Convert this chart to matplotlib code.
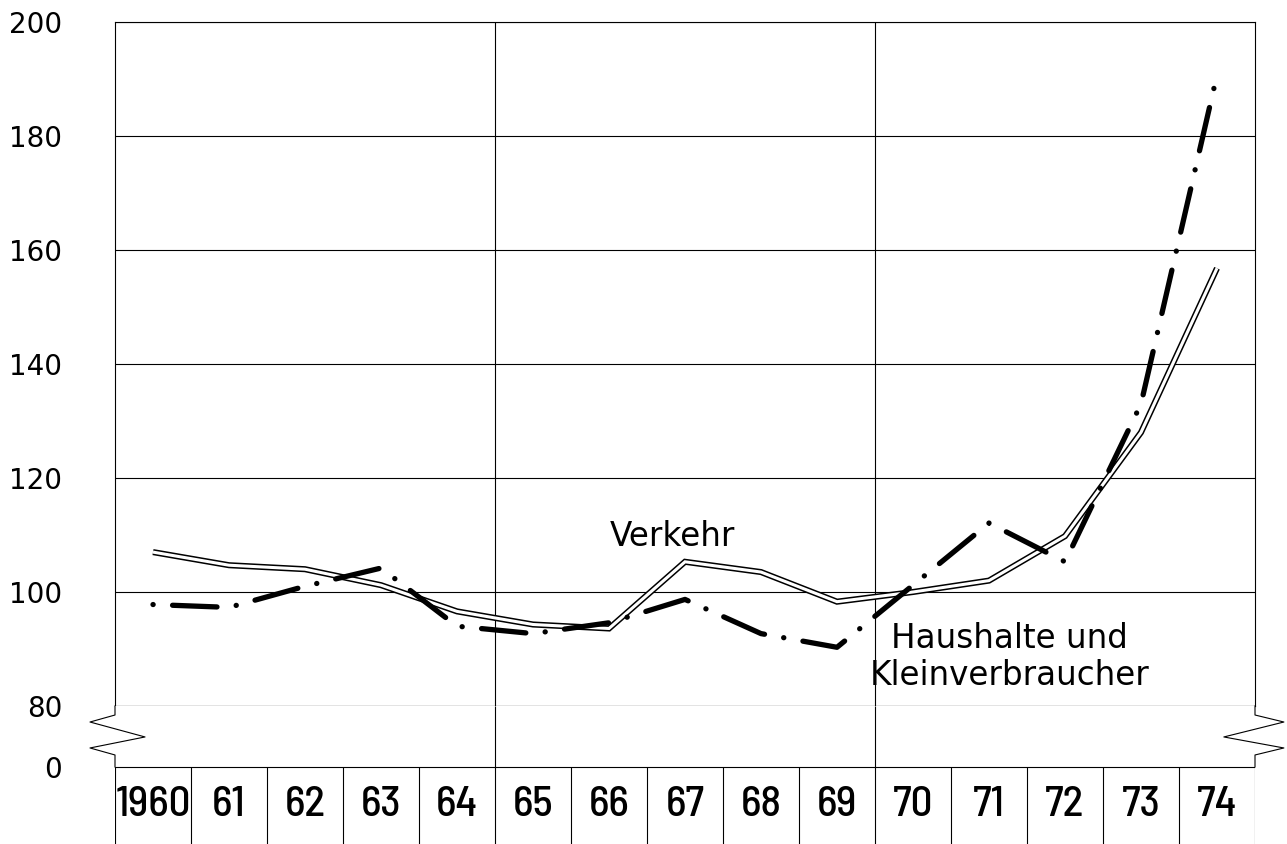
import numpy as np
import matplotlib
matplotlib.use("Agg")
import matplotlib.pyplot as plt
from matplotlib import font_manager

# ---------------- data ----------------
year_labels = ["1960", "61", "62", "63", "64", "65", "66", "67", "68", "69",
               "70", "71", "72", "73", "74"]
verkehr = [107.0, 104.7, 104.0, 101.2, 96.6, 94.3, 93.6, 105.3, 103.5, 98.3,
           100.0, 102.0, 109.8, 128.0, 156.8]
haushalte = [97.8, 97.3, 101.0, 104.2, 94.0, 92.7, 94.6, 98.7, 92.7, 90.3,
             101.2, 112.1, 105.3, 133.0, 190.7]
y_ticks = [80, 100, 120, 140, 160, 180, 200]
grid_years = ["65", "70"]   # vertical grid lines before these years

# --------------- fonts ----------------
names = {f.name for f in font_manager.fontManager.ttflist}

def pick(cands):
    for c in cands:
        if c in names:
            return c
    return "DejaVu Sans"

year_font = pick(["Barlow Semi Condensed", "Archivo Narrow", "Liberation Sans Narrow"])
year_size = 31 if year_font != "DejaVu Sans" else 24

plt.rcParams['font.family'] = ['DejaVu Sans']
plt.rcParams['lines.scale_dashes'] = False

W, H = 1287, 844
fig = plt.figure(figsize=(W / 100, H / 100), dpi=100)

def fx(px):
    return px / W

def fy(py):
    return 1 - py / H

x = np.arange(len(year_labels))

# main axes (80 .. 200)
ax = fig.add_axes([fx(115), fy(706), fx(1255) - fx(115), fy(22) - fy(706)])
ax.set_xlim(-0.5, len(year_labels) - 0.5)
ax.set_ylim(80, 200)
ax.set_yticks(y_ticks)
ax.set_yticklabels([str(t) for t in y_ticks])
ax.set_xticks([])
ax.tick_params(axis='y', length=0, pad=38, labelsize=20)
ax.yaxis.grid(True, color='black', lw=0.8)
for s in ax.spines.values():
    s.set_linewidth(0.8)
vlines_x = [year_labels.index(g) - 0.5 for g in grid_years]
for vx in vlines_x:
    ax.axvline(vx, color='black', lw=0.8)
ax.set_axisbelow(True)

# Verkehr: double line
ax.plot(x, verkehr, color='black', lw=4.4, solid_joinstyle='miter',
        solid_capstyle='butt', zorder=3)
ax.plot(x, verkehr, color='white', lw=2.2, solid_joinstyle='miter',
        solid_capstyle='butt', zorder=3.1)

# Haushalte und Kleinverbraucher: heavy dash-dot
ax.plot(x, haushalte, color='black', lw=3.8, dash_capstyle='round',
        dash_joinstyle='round', linestyle=(46, (32, 14, 0.1, 14)), zorder=4)

ax.text(6.83, 109.8, "Verkehr", ha='center', va='center', fontsize=23.5)
ax.text(11.27, 88.6, "Haushalte und\nKleinverbraucher", ha='center',
        va='center', fontsize=23.5, linespacing=1.15, multialignment='center')

# lower axes: axis break + year band
ax2 = fig.add_axes([fx(115), 0, fx(1255) - fx(115), fy(706)])
ax2.set_xlim(-0.5, len(year_labels) - 0.5)
ax2.set_ylim(-1, 0.792)
for s in ax2.spines.values():
    s.set_visible(False)
ax2.set_xticks([])
ax2.set_yticks([0])
ax2.set_yticklabels(["0"])
ax2.tick_params(axis='y', length=0, pad=38, labelsize=20)
ax2.axhline(0, color='black', lw=0.8)
bounds = np.arange(-0.5, len(year_labels), 1.0)
ax2.vlines(bounds, -1, 0, color='black', lw=0.8)
ax2.vlines(vlines_x, 0, 0.792, color='black', lw=0.8)
xr = len(year_labels) - 0.5
zz_y = [0.792, 0.675, 0.584, 0.39, 0.247, 0.156, 0.0]
ax2.plot([-0.5, -0.5, -0.829, -0.105, -0.829, -0.5, -0.5], zz_y,
         color='black', lw=0.8, clip_on=False)
ax2.plot([xr, xr, xr + 0.38, xr - 0.41, xr + 0.38, xr, xr], zz_y,
         color='black', lw=0.8, clip_on=False)
for i, lab in enumerate(year_labels):
    ax2.text(i, -0.49, lab, ha='center', va='center', fontsize=year_size,
             family=year_font, fontweight='medium')

fig.savefig("out.png", dpi=100)
